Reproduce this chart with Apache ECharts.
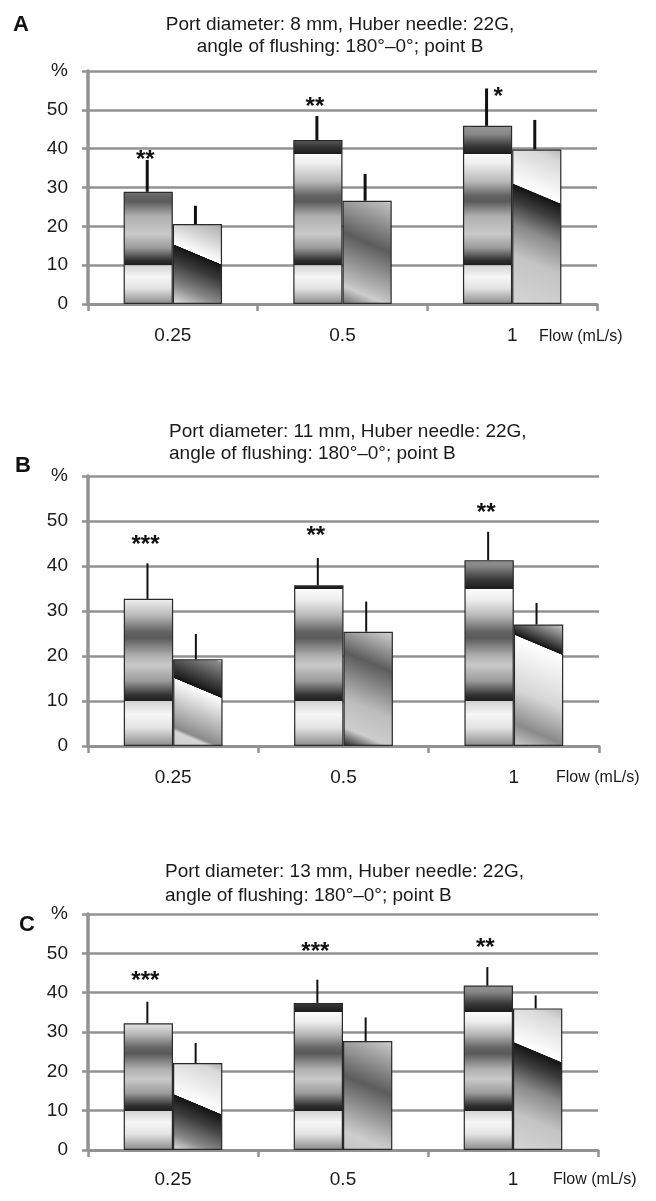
<!DOCTYPE html>
<html>
<head>
<meta charset="utf-8">
<script src="https://cdn.jsdelivr.net/npm/echarts@6/dist/echarts.min.js"></script>
<style>
  html, body { margin: 0; padding: 0; background: #fff; }
  #chart { width: 656px; height: 1201px; }
</style>
</head>
<body>
<div id="chart"></div>
<script>
// x categories: flow rate (mL/s)
const flows = ['0.25', '0.5', '1'];
const yTicks = [0, 10, 20, 30, 40, 50, 60];

// panel A - port diameter 8 mm
const darkA = [28.9, 42.2, 45.9];
const darkErrA = [8.2, 6.2, 9.6];
const lightA = [20.6, 26.6, 39.8];
const lightErrA = [4.7, 6.9, 7.6];
const starsA = ['**', '**', '*'];
const starPosA = [38.4, 52.0, 54.5];

// panel B - port diameter 11 mm
const darkB = [32.7, 35.7, 41.3];
const darkErrB = [7.9, 6.1, 6.3];
const lightB = [19.3, 25.4, 27.0];
const lightErrB = [5.6, 6.7, 4.8];
const starsB = ['***', '**', '**'];
const starPosB = [45.8, 47.6, 52.8];

// panel C - port diameter 13 mm
const darkC = [32.2, 37.4, 41.8];
const darkErrC = [5.5, 5.9, 4.7];
const lightC = [22.1, 27.7, 36.0];
const lightErrC = [5.1, 6.0, 3.3];
const starsC = ['***', '***', '**'];
const starPosC = [44.2, 51.4, 52.5];

const FONT = 'Liberation Sans, Arial, sans-serif';
const INK = '#1a1a1a';
const GRID_GREY = '#929292';
const GAP = 0.42; // barCategoryGap

const panels = [
  {
    letter: 'A', dark: darkA, darkErr: darkErrA, light: lightA, lightErr: lightErrA,
    stars: starsA, starPos: starPosA,
    title: 'Port diameter: 8 mm, Huber needle: 22G,\nangle of flushing: 180°–0°; point B',
    titleLeft: 340, titleTop: 14, titleAlign: 'center', titleLH: 22,
    letterLeft: 13, letterTop: 14,
    grid: { left: 88, top: 71, width: 509, height: 233 },
    labelMargin: 22, flowPos: [539, 329], errWidth: 3,
    hi: 38.7, mid: 26.5,
    lightSpec: [{ kind: 'wb', at: 0.40 }, { kind: 'soft', at: 0.42, corner: 0.5 }, { kind: 'wb', at: 0.32 }]
  },
  {
    letter: 'B', dark: darkB, darkErr: darkErrB, light: lightB, lightErr: lightErrB,
    stars: starsB, starPos: starPosB,
    title: 'Port diameter: 11 mm, Huber needle: 22G,\nangle of flushing: 180°–0°; point B',
    titleLeft: 169, titleTop: 421, titleAlign: 'left', titleLH: 22,
    letterLeft: 15, letterTop: 455,
    grid: { left: 88, top: 476, width: 511, height: 270 },
    labelMargin: 22, flowPos: [556, 770], errWidth: 2,
    hi: 35, mid: 24,
    lightSpec: [{ kind: 'bw', at: 0.36 }, { kind: 'soft', at: 0.30, corner: 1 }, { kind: 'bw', at: 0.22 }]
  },
  {
    letter: 'C', dark: darkC, darkErr: darkErrC, light: lightC, lightErr: lightErrC,
    stars: starsC, starPos: starPosC,
    title: 'Port diameter: 13 mm, Huber needle: 22G,\nangle of flushing: 180°–0°; point B',
    titleLeft: 165, titleTop: 860, titleAlign: 'left', titleLH: 24,
    letterLeft: 19, letterTop: 914,
    grid: { left: 88, top: 914, width: 510, height: 236 },
    labelMargin: 20, flowPos: [553, 1172], errWidth: 2,
    hi: 35.2, mid: 24.5,
    lightSpec: [{ kind: 'wb', at: 0.48 }, { kind: 'soft', at: 0.42, corner: 0 }, { kind: 'wb', at: 0.34 }]
  }
];

function hexRgb(c) {
  return [1, 3, 5].map(k => parseInt(c.slice(k, k + 2), 16));
}
function mix(a, b, f) {
  const x = hexRgb(a), y = hexRgb(b);
  const m = x.map((v, i) => Math.round(v + (y[i] - v) * f));
  return '#' + m.map(v => v.toString(16).padStart(2, '0')).join('');
}

// "chrome" bands of the first series, in axis units
function chromeBands(hi, mid) {
  return [
    [0, '#8a8a8a'], [4, '#e2e2e2'], [7, '#f6f6f6'], [9.9, '#d4d4d4'],
    [10, '#1e1e1e'], [11.2, '#2e2e2e'], [14.5, '#9c9c9c'], [18, '#c9c9c9'],
    [mid - 4, '#b0b0b0'], [mid, '#5a5a5a'], [mid + 1.5, '#656565'], [mid + 5, '#b8b8b8'],
    [hi - 2.5, '#eeeeee'], [hi - 0.1, '#fbfbfb'], [hi, '#1c1c1c'], [hi + 2, '#393939'],
    [hi + 5, '#878787'], [hi + 9, '#a4a4a4']
  ];
}

function darkFill(v, bands) {
  const stops = [];
  let top = bands[bands.length - 1][1];
  for (let k = 0; k < bands.length; k++) {
    const b = bands[k][0], c = bands[k][1];
    if (b <= v) {
      stops.push({ offset: 1 - b / v, color: c });
    } else {
      const pb = bands[k - 1][0], pc = bands[k - 1][1];
      top = mix(pc, c, (v - pb) / (b - pb));
      break;
    }
  }
  stops.push({ offset: 0, color: top });
  stops.sort((p, q) => p.offset - q.offset);
  return { type: 'linear', x: 0, y: 0, x2: 0, y2: 1, colorStops: stops };
}

// diagonal fill of the second series, h/w in pixels
function lightFill(spec, h, w) {
  const s = 0.42;
  const a = s * h / (2 * w);
  const e = spec.at;
  const px = d => d / h; // pixel distance -> gradient offset
  let st;
  if (spec.kind === 'wb') {
    st = [[0, '#b0b0b0'], [e - px(35), '#d8d8d8'], [e - 0.004, '#ffffff'], [e, '#141414'],
          [e + px(14), '#3c3c3c'], [e + px(34), '#8a8a8a'], [e + px(60), '#c4c4c4'], [1, '#d6d6d6']];
  } else if (spec.kind === 'bw') {
    st = [[0, '#cfcfcf'], [e - px(30), '#8c8c8c'], [e - 0.004, '#141414'], [e, '#ffffff'],
          [e + px(45), '#d6d6d6'], [0.84, '#8a8a8a'], [1, '#cfcfcf']];
  } else {
    st = [[0, '#d4d4d4'], [e - px(40), '#bcbcbc'], [e, '#5c5c5c'], [e + px(40), '#bdbdbd'],
          [0.86, '#cdcdcd'], [1, mix('#c4c4c4', '#1e1e1e', spec.corner)]];
  }
  const colorStops = st.filter(p => p[0] >= 0 && p[0] <= 1)
    .map(p => ({ offset: p[0], color: p[1] }));
  return { type: 'linear', x: 0.5 + a, y: 0, x2: 0.5 - a, y2: 1, colorStops };
}

const chart = echarts.init(document.getElementById('chart'), null, { renderer: 'canvas' });

function errRenderer(p) {
  return function (params, api) {
    const i = params.dataIndex;
    const band = api.size([1, 0])[0];
    const bw = band * (1 - GAP) / 2;
    const cx = api.coord([i, 0])[0];
    const xd = cx - bw / 2 - 1, xl = cx + bw / 2 - 2;
    const y = v => api.coord([i, v])[1];
    const dTop = p.dark[i] + p.darkErr[i];
    const lTop = p.light[i] + p.lightErr[i];
    const beside = p.starPos[i] < dTop;
    return {
      type: 'group',
      children: [
        { type: 'line', shape: { x1: xd, y1: y(p.dark[i]), x2: xd, y2: y(dTop) },
          style: { stroke: '#111', lineWidth: p.errWidth } },
        { type: 'line', shape: { x1: xl, y1: y(p.light[i]), x2: xl, y2: y(lTop) },
          style: { stroke: '#111', lineWidth: p.errWidth } },
        { type: 'text', x: beside ? xd + 7 : xd - 2, y: y(p.starPos[i]) + 5,
          style: { text: p.stars[i], fill: '#111', fontSize: 24, fontWeight: 'bold', fontFamily: FONT,
                   align: beside ? 'left' : 'center', verticalAlign: 'middle' } }
      ]
    };
  };
}

function buildOption(sized) {
  const option = {
    animation: false,
    backgroundColor: '#fff',
    title: [], graphic: [], grid: [], xAxis: [], yAxis: [], series: []
  };
  panels.forEach((p, g) => {
    option.title.push({
      text: p.letter, left: p.letterLeft, top: p.letterTop, padding: 0,
      textStyle: { fontSize: 22, fontWeight: 'bold', color: '#111', fontFamily: FONT, lineHeight: 22 }
    });
    option.title.push({
      text: p.title, left: p.titleLeft, top: p.titleTop, padding: 0, textAlign: p.titleAlign,
      textStyle: { fontSize: 19, fontWeight: 'normal', color: INK, fontFamily: FONT, lineHeight: p.titleLH }
    });
    option.graphic.push({
      type: 'text', left: p.flowPos[0], top: p.flowPos[1],
      style: { text: 'Flow (mL/s)', fontSize: 16, fill: INK, fontFamily: FONT }
    });
    option.grid.push(Object.assign({ containLabel: false }, p.grid));
    option.xAxis.push({
      type: 'category', gridIndex: g, data: flows, boundaryGap: true,
      axisLine: { show: true, lineStyle: { color: GRID_GREY, width: 3 } },
      axisTick: { show: true, interval: 0, length: 7, lineStyle: { color: GRID_GREY, width: 2.5 } },
      axisLabel: { fontSize: 19, color: INK, fontFamily: FONT, margin: p.labelMargin }
    });
    option.yAxis.push({
      type: 'value', gridIndex: g, min: yTicks[0], max: yTicks[yTicks.length - 1], interval: yTicks[1] - yTicks[0],
      axisLine: { show: true, lineStyle: { color: GRID_GREY, width: 3.5 } },
      axisTick: { show: true, length: 6, lineStyle: { color: GRID_GREY, width: 2.5 } },
      axisLabel: {
        fontSize: 19, color: INK, fontFamily: FONT, margin: 20,
        formatter: v => (v === yTicks[yTicks.length - 1] ? '%' : String(v))
      },
      splitLine: { show: true, lineStyle: { color: GRID_GREY, width: 2.5 } }
    });
    const bands = chromeBands(p.hi, p.mid);
    option.series.push({
      type: 'bar', xAxisIndex: g, yAxisIndex: g, barGap: 0, barCategoryGap: (GAP * 100) + '%',
      z: 2,
      data: p.dark.map(v => ({ value: v, itemStyle: { color: darkFill(v, bands) } })),
      itemStyle: { borderColor: '#2a2a2a', borderWidth: 1.2 }
    });
    option.series.push({
      type: 'bar', xAxisIndex: g, yAxisIndex: g, barGap: 0, barCategoryGap: (GAP * 100) + '%',
      z: 2,
      data: p.light.map((v, i) => {
        let color = '#cccccc';
        if (sized) {
          const y0 = chart.convertToPixel({ yAxisIndex: g }, 0);
          const y1 = chart.convertToPixel({ yAxisIndex: g }, v);
          const x0 = chart.convertToPixel({ xAxisIndex: g }, flows[0]);
          const x1 = chart.convertToPixel({ xAxisIndex: g }, flows[1]);
          const w = Math.abs(x1 - x0) * (1 - GAP) / 2;
          color = lightFill(p.lightSpec[i], Math.abs(y0 - y1), w);
        }
        return { value: v, itemStyle: { color } };
      }),
      itemStyle: { borderColor: '#2a2a2a', borderWidth: 1.2 }
    });
    option.series.push({
      type: 'custom', xAxisIndex: g, yAxisIndex: g, z: 5, silent: true,
      renderItem: errRenderer(p),
      encode: { x: 0, y: 1 },
      data: flows.map((f, i) => [i, p.dark[i]])
    });
  });
  return option;
}

chart.setOption(buildOption(false));
chart.setOption(buildOption(true));
</script>
</body>
</html>
